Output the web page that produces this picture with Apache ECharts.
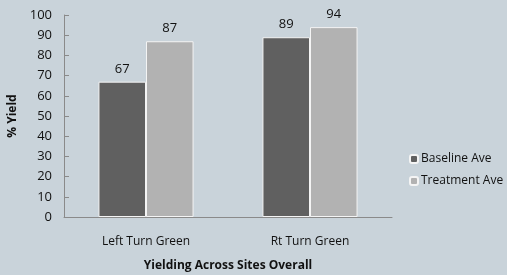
<!DOCTYPE html>
<html>
<head>
<meta charset="utf-8">
<script src="https://cdn.jsdelivr.net/npm/echarts@6/dist/echarts.min.js"></script>
<style>
  html, body { margin: 0; padding: 0; background: #c9d3da; }
  #chart { width: 507px; height: 275px; }
</style>
</head>
<body>
<div id="chart"></div>
<script>
var categories = ["Left Turn Green", "Rt Turn Green"];
var baseline = [67, 89];
var treatment = [87, 94];
var seriesNames = ["Baseline Ave", "Treatment Ave"];

var chart = echarts.init(document.getElementById("chart"));
var font = "Open Sans";

var option = {
  backgroundColor: "#c9d3da",
  animation: false,
  grid: { left: 64, right: 115, top: 15, bottom: 58, outerBoundsMode: "none" },
  legend: {
    orient: "vertical",
    left: 404,
    top: 148,
    itemWidth: 8,
    itemHeight: 8,
    itemGap: 10,
    data: seriesNames,
    textStyle: { fontFamily: font, fontSize: 12, color: "#111", padding: [0, 0, 0, -2] }
  },
  xAxis: {
    type: "category",
    data: categories,
    name: "Yielding Across Sites Overall",
    nameLocation: "middle",
    nameGap: 43,
    nameTextStyle: { fontFamily: font, fontSize: 12, fontWeight: "bold", color: "#111" },
    axisLine: { lineStyle: { color: "#8a8a8a" } },
    axisTick: { inside: true, length: 5, lineStyle: { color: "#8a8a8a" } },
    axisLabel: { fontFamily: font, fontSize: 12, color: "#111", margin: 19 }
  },
  yAxis: {
    type: "value",
    min: 0,
    max: 100,
    interval: 10,
    name: "% Yield",
    nameLocation: "middle",
    nameGap: 45,
    nameTextStyle: { fontFamily: font, fontSize: 12, fontWeight: "bold", color: "#111" },
    axisLine: { show: true, lineStyle: { color: "#8a8a8a" } },
    axisTick: { show: true, inside: true, length: 5, lineStyle: { color: "#8a8a8a" } },
    axisLabel: { fontFamily: font, fontSize: 13, color: "#111", margin: 12 },
    splitLine: { show: false }
  },
  series: [
    {
      name: seriesNames[0],
      type: "bar",
      data: baseline,
      barWidth: "29%",
      barGap: "0%",
      itemStyle: { color: "#606060", borderColor: "#f4f4f4", borderWidth: 1 },
      label: { show: true, position: "top", fontFamily: font, fontSize: 13, color: "#111", distance: 6 }
    },
    {
      name: seriesNames[1],
      type: "bar",
      data: treatment,
      barWidth: "29%",
      barGap: "0%",
      itemStyle: { color: "#b2b2b2", borderColor: "#f4f4f4", borderWidth: 1 },
      label: { show: true, position: "top", fontFamily: font, fontSize: 13, color: "#111", distance: 6 }
    }
  ]
};

chart.setOption(option);
</script>
</body>
</html>
